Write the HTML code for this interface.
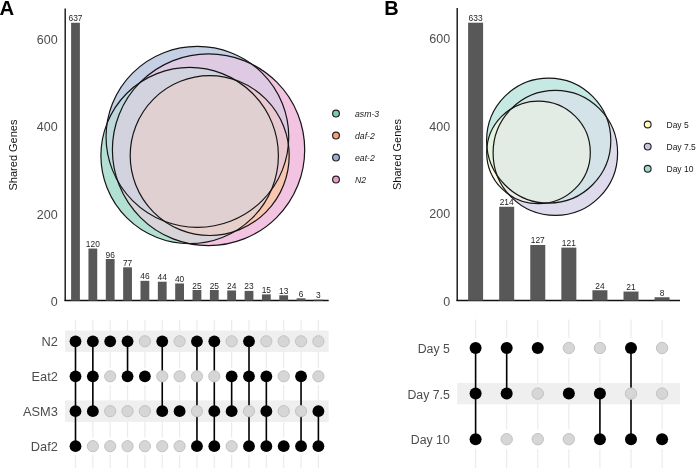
<!DOCTYPE html><html><head><meta charset="utf-8"><style>html,body{margin:0;padding:0;background:#fff;}svg{display:block;will-change:transform;}text{font-family:"Liberation Sans",sans-serif;}</style></head><body>
<svg width="696" height="468" viewBox="0 0 696 468">
<rect width="696" height="468" fill="#fff"/>
<text x="-0.4" y="15.1" font-size="20.3" font-weight="bold" fill="#000">A</text>
<line x1="65.2" y1="8.5" x2="65.2" y2="301" stroke="#111" stroke-width="1.4"/>
<line x1="64.5" y1="300.5" x2="328.7" y2="300.5" stroke="#111" stroke-width="1.7"/>
<text x="57.6" y="305.9" font-size="12.5" fill="#4d4d4d" text-anchor="end">0</text>
<text x="57.6" y="218.6" font-size="12.5" fill="#4d4d4d" text-anchor="end">200</text>
<text x="57.6" y="131.3" font-size="12.5" fill="#4d4d4d" text-anchor="end">400</text>
<text x="57.6" y="43.9" font-size="12.5" fill="#4d4d4d" text-anchor="end">600</text>
<text transform="translate(17.3,155) rotate(-90)" font-size="11" fill="#111" text-anchor="middle">Shared Genes</text>
<rect x="71.10" y="22.75" width="8.8" height="277.85" fill="#585858"/>
<text x="75.50" y="21.25" font-size="8.4" fill="#1e1e1e" text-anchor="middle">637</text>
<rect x="88.45" y="248.53" width="8.8" height="52.07" fill="#585858"/>
<text x="92.85" y="247.03" font-size="8.4" fill="#1e1e1e" text-anchor="middle">120</text>
<rect x="105.80" y="259.01" width="8.8" height="41.59" fill="#585858"/>
<text x="110.20" y="257.51" font-size="8.4" fill="#1e1e1e" text-anchor="middle">96</text>
<rect x="123.15" y="267.30" width="8.8" height="33.30" fill="#585858"/>
<text x="127.55" y="265.80" font-size="8.4" fill="#1e1e1e" text-anchor="middle">77</text>
<rect x="140.50" y="280.84" width="8.8" height="19.76" fill="#585858"/>
<text x="144.90" y="279.34" font-size="8.4" fill="#1e1e1e" text-anchor="middle">46</text>
<rect x="157.85" y="281.72" width="8.8" height="18.88" fill="#585858"/>
<text x="162.25" y="280.22" font-size="8.4" fill="#1e1e1e" text-anchor="middle">44</text>
<rect x="175.20" y="283.46" width="8.8" height="17.14" fill="#585858"/>
<text x="179.60" y="281.96" font-size="8.4" fill="#1e1e1e" text-anchor="middle">40</text>
<rect x="192.55" y="290.01" width="8.8" height="10.59" fill="#585858"/>
<text x="196.95" y="288.51" font-size="8.4" fill="#1e1e1e" text-anchor="middle">25</text>
<rect x="209.90" y="290.01" width="8.8" height="10.59" fill="#585858"/>
<text x="214.30" y="288.51" font-size="8.4" fill="#1e1e1e" text-anchor="middle">25</text>
<rect x="227.25" y="290.45" width="8.8" height="10.15" fill="#585858"/>
<text x="231.65" y="288.95" font-size="8.4" fill="#1e1e1e" text-anchor="middle">24</text>
<rect x="244.60" y="290.89" width="8.8" height="9.71" fill="#585858"/>
<text x="249.00" y="289.39" font-size="8.4" fill="#1e1e1e" text-anchor="middle">23</text>
<rect x="261.95" y="294.38" width="8.8" height="6.22" fill="#585858"/>
<text x="266.35" y="292.88" font-size="8.4" fill="#1e1e1e" text-anchor="middle">15</text>
<rect x="279.30" y="295.25" width="8.8" height="5.35" fill="#585858"/>
<text x="283.70" y="293.75" font-size="8.4" fill="#1e1e1e" text-anchor="middle">13</text>
<rect x="296.65" y="298.31" width="8.8" height="2.29" fill="#585858"/>
<text x="301.05" y="296.81" font-size="8.4" fill="#1e1e1e" text-anchor="middle">6</text>
<rect x="314.00" y="299.62" width="8.8" height="0.98" fill="#585858"/>
<text x="318.40" y="298.12" font-size="8.4" fill="#1e1e1e" text-anchor="middle">3</text>
<rect x="65" y="330.7" width="263.5" height="21.2" fill="#efefef"/>
<rect x="65" y="400.6" width="263.5" height="21.2" fill="#efefef"/>
<line x1="75.50" y1="320" x2="75.50" y2="468" stroke="#ebebeb" stroke-width="1.2"/>
<line x1="92.85" y1="320" x2="92.85" y2="468" stroke="#ebebeb" stroke-width="1.2"/>
<line x1="110.20" y1="320" x2="110.20" y2="468" stroke="#ebebeb" stroke-width="1.2"/>
<line x1="127.55" y1="320" x2="127.55" y2="468" stroke="#ebebeb" stroke-width="1.2"/>
<line x1="144.90" y1="320" x2="144.90" y2="468" stroke="#ebebeb" stroke-width="1.2"/>
<line x1="162.25" y1="320" x2="162.25" y2="468" stroke="#ebebeb" stroke-width="1.2"/>
<line x1="179.60" y1="320" x2="179.60" y2="468" stroke="#ebebeb" stroke-width="1.2"/>
<line x1="196.95" y1="320" x2="196.95" y2="468" stroke="#ebebeb" stroke-width="1.2"/>
<line x1="214.30" y1="320" x2="214.30" y2="468" stroke="#ebebeb" stroke-width="1.2"/>
<line x1="231.65" y1="320" x2="231.65" y2="468" stroke="#ebebeb" stroke-width="1.2"/>
<line x1="249.00" y1="320" x2="249.00" y2="468" stroke="#ebebeb" stroke-width="1.2"/>
<line x1="266.35" y1="320" x2="266.35" y2="468" stroke="#ebebeb" stroke-width="1.2"/>
<line x1="283.70" y1="320" x2="283.70" y2="468" stroke="#ebebeb" stroke-width="1.2"/>
<line x1="301.05" y1="320" x2="301.05" y2="468" stroke="#ebebeb" stroke-width="1.2"/>
<line x1="318.40" y1="320" x2="318.40" y2="468" stroke="#ebebeb" stroke-width="1.2"/>
<circle cx="75.50" cy="341.3" r="8.6" fill="#efefef"/>
<circle cx="75.50" cy="376.3" r="8.6" fill="#fff"/>
<circle cx="75.50" cy="411.2" r="8.6" fill="#efefef"/>
<circle cx="75.50" cy="446.2" r="8.6" fill="#fff"/>
<circle cx="92.85" cy="341.3" r="8.6" fill="#efefef"/>
<circle cx="92.85" cy="376.3" r="8.6" fill="#fff"/>
<circle cx="92.85" cy="411.2" r="8.6" fill="#efefef"/>
<circle cx="92.85" cy="446.2" r="8.6" fill="#fff"/>
<circle cx="110.20" cy="341.3" r="8.6" fill="#efefef"/>
<circle cx="110.20" cy="376.3" r="8.6" fill="#fff"/>
<circle cx="110.20" cy="411.2" r="8.6" fill="#efefef"/>
<circle cx="110.20" cy="446.2" r="8.6" fill="#fff"/>
<circle cx="127.55" cy="341.3" r="8.6" fill="#efefef"/>
<circle cx="127.55" cy="376.3" r="8.6" fill="#fff"/>
<circle cx="127.55" cy="411.2" r="8.6" fill="#efefef"/>
<circle cx="127.55" cy="446.2" r="8.6" fill="#fff"/>
<circle cx="144.90" cy="341.3" r="8.6" fill="#efefef"/>
<circle cx="144.90" cy="376.3" r="8.6" fill="#fff"/>
<circle cx="144.90" cy="411.2" r="8.6" fill="#efefef"/>
<circle cx="144.90" cy="446.2" r="8.6" fill="#fff"/>
<circle cx="162.25" cy="341.3" r="8.6" fill="#efefef"/>
<circle cx="162.25" cy="376.3" r="8.6" fill="#fff"/>
<circle cx="162.25" cy="411.2" r="8.6" fill="#efefef"/>
<circle cx="162.25" cy="446.2" r="8.6" fill="#fff"/>
<circle cx="179.60" cy="341.3" r="8.6" fill="#efefef"/>
<circle cx="179.60" cy="376.3" r="8.6" fill="#fff"/>
<circle cx="179.60" cy="411.2" r="8.6" fill="#efefef"/>
<circle cx="179.60" cy="446.2" r="8.6" fill="#fff"/>
<circle cx="196.95" cy="341.3" r="8.6" fill="#efefef"/>
<circle cx="196.95" cy="376.3" r="8.6" fill="#fff"/>
<circle cx="196.95" cy="411.2" r="8.6" fill="#efefef"/>
<circle cx="196.95" cy="446.2" r="8.6" fill="#fff"/>
<circle cx="214.30" cy="341.3" r="8.6" fill="#efefef"/>
<circle cx="214.30" cy="376.3" r="8.6" fill="#fff"/>
<circle cx="214.30" cy="411.2" r="8.6" fill="#efefef"/>
<circle cx="214.30" cy="446.2" r="8.6" fill="#fff"/>
<circle cx="231.65" cy="341.3" r="8.6" fill="#efefef"/>
<circle cx="231.65" cy="376.3" r="8.6" fill="#fff"/>
<circle cx="231.65" cy="411.2" r="8.6" fill="#efefef"/>
<circle cx="231.65" cy="446.2" r="8.6" fill="#fff"/>
<circle cx="249.00" cy="341.3" r="8.6" fill="#efefef"/>
<circle cx="249.00" cy="376.3" r="8.6" fill="#fff"/>
<circle cx="249.00" cy="411.2" r="8.6" fill="#efefef"/>
<circle cx="249.00" cy="446.2" r="8.6" fill="#fff"/>
<circle cx="266.35" cy="341.3" r="8.6" fill="#efefef"/>
<circle cx="266.35" cy="376.3" r="8.6" fill="#fff"/>
<circle cx="266.35" cy="411.2" r="8.6" fill="#efefef"/>
<circle cx="266.35" cy="446.2" r="8.6" fill="#fff"/>
<circle cx="283.70" cy="341.3" r="8.6" fill="#efefef"/>
<circle cx="283.70" cy="376.3" r="8.6" fill="#fff"/>
<circle cx="283.70" cy="411.2" r="8.6" fill="#efefef"/>
<circle cx="283.70" cy="446.2" r="8.6" fill="#fff"/>
<circle cx="301.05" cy="341.3" r="8.6" fill="#efefef"/>
<circle cx="301.05" cy="376.3" r="8.6" fill="#fff"/>
<circle cx="301.05" cy="411.2" r="8.6" fill="#efefef"/>
<circle cx="301.05" cy="446.2" r="8.6" fill="#fff"/>
<circle cx="318.40" cy="341.3" r="8.6" fill="#efefef"/>
<circle cx="318.40" cy="376.3" r="8.6" fill="#fff"/>
<circle cx="318.40" cy="411.2" r="8.6" fill="#efefef"/>
<circle cx="318.40" cy="446.2" r="8.6" fill="#fff"/>
<rect x="65" y="330.7" width="263.5" height="21.2" fill="#efefef" opacity="0.7"/>
<rect x="65" y="400.6" width="263.5" height="21.2" fill="#efefef" opacity="0.7"/>
<line x1="75.50" y1="341.3" x2="75.50" y2="446.2" stroke="#000" stroke-width="1.6"/>
<circle cx="75.50" cy="341.3" r="5.9" fill="#000"/>
<circle cx="75.50" cy="376.3" r="5.9" fill="#000"/>
<circle cx="75.50" cy="411.2" r="5.9" fill="#000"/>
<circle cx="75.50" cy="446.2" r="5.9" fill="#000"/>
<line x1="92.85" y1="341.3" x2="92.85" y2="411.2" stroke="#000" stroke-width="1.6"/>
<circle cx="92.85" cy="341.3" r="5.9" fill="#000"/>
<circle cx="92.85" cy="376.3" r="5.9" fill="#000"/>
<circle cx="92.85" cy="411.2" r="5.9" fill="#000"/>
<circle cx="92.85" cy="446.2" r="5.6" fill="#d6d6d6" stroke="#c2c2c2" stroke-width="1"/>
<circle cx="110.20" cy="341.3" r="5.9" fill="#000"/>
<circle cx="110.20" cy="376.3" r="5.6" fill="#d6d6d6" stroke="#c2c2c2" stroke-width="1"/>
<circle cx="110.20" cy="411.2" r="5.6" fill="#d6d6d6" stroke="#c2c2c2" stroke-width="1"/>
<circle cx="110.20" cy="446.2" r="5.6" fill="#d6d6d6" stroke="#c2c2c2" stroke-width="1"/>
<line x1="127.55" y1="341.3" x2="127.55" y2="376.3" stroke="#000" stroke-width="1.6"/>
<circle cx="127.55" cy="341.3" r="5.9" fill="#000"/>
<circle cx="127.55" cy="376.3" r="5.9" fill="#000"/>
<circle cx="127.55" cy="411.2" r="5.6" fill="#d6d6d6" stroke="#c2c2c2" stroke-width="1"/>
<circle cx="127.55" cy="446.2" r="5.6" fill="#d6d6d6" stroke="#c2c2c2" stroke-width="1"/>
<circle cx="144.90" cy="341.3" r="5.6" fill="#d6d6d6" stroke="#c2c2c2" stroke-width="1"/>
<circle cx="144.90" cy="376.3" r="5.9" fill="#000"/>
<circle cx="144.90" cy="411.2" r="5.6" fill="#d6d6d6" stroke="#c2c2c2" stroke-width="1"/>
<circle cx="144.90" cy="446.2" r="5.6" fill="#d6d6d6" stroke="#c2c2c2" stroke-width="1"/>
<line x1="162.25" y1="341.3" x2="162.25" y2="411.2" stroke="#000" stroke-width="1.6"/>
<circle cx="162.25" cy="341.3" r="5.9" fill="#000"/>
<circle cx="162.25" cy="376.3" r="5.6" fill="#d6d6d6" stroke="#c2c2c2" stroke-width="1"/>
<circle cx="162.25" cy="411.2" r="5.9" fill="#000"/>
<circle cx="162.25" cy="446.2" r="5.6" fill="#d6d6d6" stroke="#c2c2c2" stroke-width="1"/>
<circle cx="179.60" cy="341.3" r="5.6" fill="#d6d6d6" stroke="#c2c2c2" stroke-width="1"/>
<circle cx="179.60" cy="376.3" r="5.6" fill="#d6d6d6" stroke="#c2c2c2" stroke-width="1"/>
<circle cx="179.60" cy="411.2" r="5.9" fill="#000"/>
<circle cx="179.60" cy="446.2" r="5.6" fill="#d6d6d6" stroke="#c2c2c2" stroke-width="1"/>
<line x1="196.95" y1="341.3" x2="196.95" y2="446.2" stroke="#000" stroke-width="1.6"/>
<circle cx="196.95" cy="341.3" r="5.9" fill="#000"/>
<circle cx="196.95" cy="376.3" r="5.6" fill="#d6d6d6" stroke="#c2c2c2" stroke-width="1"/>
<circle cx="196.95" cy="411.2" r="5.6" fill="#d6d6d6" stroke="#c2c2c2" stroke-width="1"/>
<circle cx="196.95" cy="446.2" r="5.9" fill="#000"/>
<line x1="214.30" y1="341.3" x2="214.30" y2="446.2" stroke="#000" stroke-width="1.6"/>
<circle cx="214.30" cy="341.3" r="5.9" fill="#000"/>
<circle cx="214.30" cy="376.3" r="5.6" fill="#d6d6d6" stroke="#c2c2c2" stroke-width="1"/>
<circle cx="214.30" cy="411.2" r="5.9" fill="#000"/>
<circle cx="214.30" cy="446.2" r="5.9" fill="#000"/>
<line x1="231.65" y1="376.3" x2="231.65" y2="411.2" stroke="#000" stroke-width="1.6"/>
<circle cx="231.65" cy="341.3" r="5.6" fill="#d6d6d6" stroke="#c2c2c2" stroke-width="1"/>
<circle cx="231.65" cy="376.3" r="5.9" fill="#000"/>
<circle cx="231.65" cy="411.2" r="5.9" fill="#000"/>
<circle cx="231.65" cy="446.2" r="5.6" fill="#d6d6d6" stroke="#c2c2c2" stroke-width="1"/>
<line x1="249.00" y1="341.3" x2="249.00" y2="446.2" stroke="#000" stroke-width="1.6"/>
<circle cx="249.00" cy="341.3" r="5.9" fill="#000"/>
<circle cx="249.00" cy="376.3" r="5.9" fill="#000"/>
<circle cx="249.00" cy="411.2" r="5.6" fill="#d6d6d6" stroke="#c2c2c2" stroke-width="1"/>
<circle cx="249.00" cy="446.2" r="5.9" fill="#000"/>
<line x1="266.35" y1="376.3" x2="266.35" y2="446.2" stroke="#000" stroke-width="1.6"/>
<circle cx="266.35" cy="341.3" r="5.6" fill="#d6d6d6" stroke="#c2c2c2" stroke-width="1"/>
<circle cx="266.35" cy="376.3" r="5.9" fill="#000"/>
<circle cx="266.35" cy="411.2" r="5.9" fill="#000"/>
<circle cx="266.35" cy="446.2" r="5.9" fill="#000"/>
<circle cx="283.70" cy="341.3" r="5.6" fill="#d6d6d6" stroke="#c2c2c2" stroke-width="1"/>
<circle cx="283.70" cy="376.3" r="5.6" fill="#d6d6d6" stroke="#c2c2c2" stroke-width="1"/>
<circle cx="283.70" cy="411.2" r="5.6" fill="#d6d6d6" stroke="#c2c2c2" stroke-width="1"/>
<circle cx="283.70" cy="446.2" r="5.9" fill="#000"/>
<line x1="301.05" y1="376.3" x2="301.05" y2="446.2" stroke="#000" stroke-width="1.6"/>
<circle cx="301.05" cy="341.3" r="5.6" fill="#d6d6d6" stroke="#c2c2c2" stroke-width="1"/>
<circle cx="301.05" cy="376.3" r="5.9" fill="#000"/>
<circle cx="301.05" cy="411.2" r="5.6" fill="#d6d6d6" stroke="#c2c2c2" stroke-width="1"/>
<circle cx="301.05" cy="446.2" r="5.9" fill="#000"/>
<line x1="318.40" y1="411.2" x2="318.40" y2="446.2" stroke="#000" stroke-width="1.6"/>
<circle cx="318.40" cy="341.3" r="5.6" fill="#d6d6d6" stroke="#c2c2c2" stroke-width="1"/>
<circle cx="318.40" cy="376.3" r="5.6" fill="#d6d6d6" stroke="#c2c2c2" stroke-width="1"/>
<circle cx="318.40" cy="411.2" r="5.9" fill="#000"/>
<circle cx="318.40" cy="446.2" r="5.9" fill="#000"/>
<text x="57.9" y="346.0" font-size="12.8" fill="#4d4d4d" text-anchor="end">N2</text>
<text x="57.9" y="381.0" font-size="12.8" fill="#4d4d4d" text-anchor="end">Eat2</text>
<text x="57.9" y="415.9" font-size="12.8" fill="#4d4d4d" text-anchor="end">ASM3</text>
<text x="57.9" y="450.9" font-size="12.8" fill="#4d4d4d" text-anchor="end">Daf2</text>
<defs>
<clipPath id="ac0"><ellipse cx="189.65" cy="155.55" rx="88.75" ry="88.15"/></clipPath>
<clipPath id="ac1"><ellipse cx="209.7" cy="155.6" rx="79.5" ry="79.9"/></clipPath>
<clipPath id="ac2"><ellipse cx="197.4" cy="136.85" rx="91.35" ry="90.45"/></clipPath>
<clipPath id="ac3"><ellipse cx="208.55" cy="149.75" rx="96.15" ry="95.9"/></clipPath>
<mask id="am0" maskUnits="userSpaceOnUse" x="95" y="40" width="220" height="215"><rect x="95" y="40" width="220" height="215" fill="#fff"/><ellipse cx="209.7" cy="155.6" rx="79.5" ry="79.9" fill="#000"/><ellipse cx="197.4" cy="136.85" rx="91.35" ry="90.45" fill="#000"/><ellipse cx="208.55" cy="149.75" rx="96.15" ry="95.9" fill="#000"/></mask>
<mask id="am1" maskUnits="userSpaceOnUse" x="95" y="40" width="220" height="215"><rect x="95" y="40" width="220" height="215" fill="#fff"/><ellipse cx="189.65" cy="155.55" rx="88.75" ry="88.15" fill="#000"/><ellipse cx="197.4" cy="136.85" rx="91.35" ry="90.45" fill="#000"/><ellipse cx="208.55" cy="149.75" rx="96.15" ry="95.9" fill="#000"/></mask>
<mask id="am2" maskUnits="userSpaceOnUse" x="95" y="40" width="220" height="215"><rect x="95" y="40" width="220" height="215" fill="#fff"/><ellipse cx="189.65" cy="155.55" rx="88.75" ry="88.15" fill="#000"/><ellipse cx="209.7" cy="155.6" rx="79.5" ry="79.9" fill="#000"/><ellipse cx="208.55" cy="149.75" rx="96.15" ry="95.9" fill="#000"/></mask>
<mask id="am3" maskUnits="userSpaceOnUse" x="95" y="40" width="220" height="215"><rect x="95" y="40" width="220" height="215" fill="#fff"/><ellipse cx="189.65" cy="155.55" rx="88.75" ry="88.15" fill="#000"/><ellipse cx="209.7" cy="155.6" rx="79.5" ry="79.9" fill="#000"/><ellipse cx="197.4" cy="136.85" rx="91.35" ry="90.45" fill="#000"/></mask>
<mask id="am01" maskUnits="userSpaceOnUse" x="95" y="40" width="220" height="215"><rect x="95" y="40" width="220" height="215" fill="#fff"/><ellipse cx="197.4" cy="136.85" rx="91.35" ry="90.45" fill="#000"/><ellipse cx="208.55" cy="149.75" rx="96.15" ry="95.9" fill="#000"/></mask>
<mask id="am02" maskUnits="userSpaceOnUse" x="95" y="40" width="220" height="215"><rect x="95" y="40" width="220" height="215" fill="#fff"/><ellipse cx="209.7" cy="155.6" rx="79.5" ry="79.9" fill="#000"/><ellipse cx="208.55" cy="149.75" rx="96.15" ry="95.9" fill="#000"/></mask>
<mask id="am03" maskUnits="userSpaceOnUse" x="95" y="40" width="220" height="215"><rect x="95" y="40" width="220" height="215" fill="#fff"/><ellipse cx="209.7" cy="155.6" rx="79.5" ry="79.9" fill="#000"/><ellipse cx="197.4" cy="136.85" rx="91.35" ry="90.45" fill="#000"/></mask>
<mask id="am12" maskUnits="userSpaceOnUse" x="95" y="40" width="220" height="215"><rect x="95" y="40" width="220" height="215" fill="#fff"/><ellipse cx="189.65" cy="155.55" rx="88.75" ry="88.15" fill="#000"/><ellipse cx="208.55" cy="149.75" rx="96.15" ry="95.9" fill="#000"/></mask>
<mask id="am13" maskUnits="userSpaceOnUse" x="95" y="40" width="220" height="215"><rect x="95" y="40" width="220" height="215" fill="#fff"/><ellipse cx="189.65" cy="155.55" rx="88.75" ry="88.15" fill="#000"/><ellipse cx="197.4" cy="136.85" rx="91.35" ry="90.45" fill="#000"/></mask>
<mask id="am23" maskUnits="userSpaceOnUse" x="95" y="40" width="220" height="215"><rect x="95" y="40" width="220" height="215" fill="#fff"/><ellipse cx="189.65" cy="155.55" rx="88.75" ry="88.15" fill="#000"/><ellipse cx="209.7" cy="155.6" rx="79.5" ry="79.9" fill="#000"/></mask>
<mask id="am012" maskUnits="userSpaceOnUse" x="95" y="40" width="220" height="215"><rect x="95" y="40" width="220" height="215" fill="#fff"/><ellipse cx="208.55" cy="149.75" rx="96.15" ry="95.9" fill="#000"/></mask>
<mask id="am013" maskUnits="userSpaceOnUse" x="95" y="40" width="220" height="215"><rect x="95" y="40" width="220" height="215" fill="#fff"/><ellipse cx="197.4" cy="136.85" rx="91.35" ry="90.45" fill="#000"/></mask>
<mask id="am023" maskUnits="userSpaceOnUse" x="95" y="40" width="220" height="215"><rect x="95" y="40" width="220" height="215" fill="#fff"/><ellipse cx="209.7" cy="155.6" rx="79.5" ry="79.9" fill="#000"/></mask>
<mask id="am123" maskUnits="userSpaceOnUse" x="95" y="40" width="220" height="215"><rect x="95" y="40" width="220" height="215" fill="#fff"/><ellipse cx="189.65" cy="155.55" rx="88.75" ry="88.15" fill="#000"/></mask>
</defs>
<g clip-path="url(#ac0)"><rect x="95" y="40" width="220" height="215" fill="#b2e0d2" mask="url(#am0)"/></g>
<g clip-path="url(#ac1)"><rect x="95" y="40" width="220" height="215" fill="#fec6b0" mask="url(#am1)"/></g>
<g clip-path="url(#ac2)"><rect x="95" y="40" width="220" height="215" fill="#c6d0e5" mask="url(#am2)"/></g>
<g clip-path="url(#ac3)"><rect x="95" y="40" width="220" height="215" fill="#f3c4e1" mask="url(#am3)"/></g>
<g clip-path="url(#ac0)"><g clip-path="url(#ac1)"><rect x="95" y="40" width="220" height="215" fill="#e0d5c1" mask="url(#am01)"/></g></g>
<g clip-path="url(#ac0)"><g clip-path="url(#ac2)"><rect x="95" y="40" width="220" height="215" fill="#bed8dc" mask="url(#am02)"/></g></g>
<g clip-path="url(#ac0)"><g clip-path="url(#ac3)"><rect x="95" y="40" width="220" height="215" fill="#d8d4da" mask="url(#am03)"/></g></g>
<g clip-path="url(#ac1)"><g clip-path="url(#ac2)"><rect x="95" y="40" width="220" height="215" fill="#e7cbcb" mask="url(#am12)"/></g></g>
<g clip-path="url(#ac1)"><g clip-path="url(#ac3)"><rect x="95" y="40" width="220" height="215" fill="#f9c6b0" mask="url(#am13)"/></g></g>
<g clip-path="url(#ac2)"><g clip-path="url(#ac3)"><rect x="95" y="40" width="220" height="215" fill="#decbe3" mask="url(#am23)"/></g></g>
<g clip-path="url(#ac0)"><g clip-path="url(#ac1)"><g clip-path="url(#ac2)"><rect x="95" y="40" width="220" height="215" fill="#dad3ce" mask="url(#am012)"/></g></g></g>
<g clip-path="url(#ac0)"><g clip-path="url(#ac1)"><g clip-path="url(#ac3)"><rect x="95" y="40" width="220" height="215" fill="#e7d0cc" mask="url(#am013)"/></g></g></g>
<g clip-path="url(#ac0)"><g clip-path="url(#ac2)"><g clip-path="url(#ac3)"><rect x="95" y="40" width="220" height="215" fill="#d2d3de" mask="url(#am023)"/></g></g></g>
<g clip-path="url(#ac1)"><g clip-path="url(#ac2)"><g clip-path="url(#ac3)"><rect x="95" y="40" width="220" height="215" fill="#ebc9d2" mask="url(#am123)"/></g></g></g>
<g clip-path="url(#ac0)"><g clip-path="url(#ac1)"><g clip-path="url(#ac2)"><g clip-path="url(#ac3)"><rect x="95" y="40" width="220" height="215" fill="#e0d0d2"/></g></g></g></g>
<ellipse cx="189.65" cy="155.55" rx="88.75" ry="88.15" fill="none" stroke="#151515" stroke-width="1.2"/>
<ellipse cx="209.7" cy="155.6" rx="79.5" ry="79.9" fill="none" stroke="#151515" stroke-width="1.2"/>
<ellipse cx="197.4" cy="136.85" rx="91.35" ry="90.45" fill="none" stroke="#151515" stroke-width="1.2"/>
<ellipse cx="208.55" cy="149.75" rx="96.15" ry="95.9" fill="none" stroke="#151515" stroke-width="1.2"/>
<circle cx="336" cy="113.6" r="3.4" fill="#66c2a5" fill-opacity="0.85" stroke="#222" stroke-width="1.2"/>
<text x="355" y="117.0" font-size="8.7" font-style="italic" fill="#1a1a1a">asm-3</text>
<circle cx="336" cy="135.6" r="3.4" fill="#fc8d62" fill-opacity="0.85" stroke="#222" stroke-width="1.2"/>
<text x="355" y="139.0" font-size="8.7" font-style="italic" fill="#1a1a1a">daf-2</text>
<circle cx="336" cy="157.6" r="3.4" fill="#8da0cb" fill-opacity="0.85" stroke="#222" stroke-width="1.2"/>
<text x="355" y="161.0" font-size="8.7" font-style="italic" fill="#1a1a1a">eat-2</text>
<circle cx="336" cy="179.6" r="3.4" fill="#e78ac3" fill-opacity="0.85" stroke="#222" stroke-width="1.2"/>
<text x="355" y="183.0" font-size="8.7" font-style="italic" fill="#1a1a1a">N2</text>
<text x="384.2" y="14.8" font-size="20" font-weight="bold" fill="#000">B</text>
<line x1="457.2" y1="8.1" x2="457.2" y2="301" stroke="#111" stroke-width="1.4"/>
<line x1="456.5" y1="300.5" x2="680" y2="300.5" stroke="#111" stroke-width="1.7"/>
<text x="450.1" y="306.3" font-size="12.5" fill="#4d4d4d" text-anchor="end">0</text>
<text x="450.1" y="218.4" font-size="12.5" fill="#4d4d4d" text-anchor="end">200</text>
<text x="450.1" y="130.6" font-size="12.5" fill="#4d4d4d" text-anchor="end">400</text>
<text x="450.1" y="42.7" font-size="12.5" fill="#4d4d4d" text-anchor="end">600</text>
<text transform="translate(401.2,154.5) rotate(-90)" font-size="11" fill="#111" text-anchor="middle">Shared Genes</text>
<rect x="468.10" y="22.70" width="15" height="277.90" fill="#585858"/>
<text x="475.60" y="21.20" font-size="8.4" fill="#1e1e1e" text-anchor="middle">633</text>
<rect x="499.18" y="206.77" width="15" height="93.83" fill="#585858"/>
<text x="506.68" y="205.27" font-size="8.4" fill="#1e1e1e" text-anchor="middle">214</text>
<rect x="530.26" y="244.99" width="15" height="55.61" fill="#585858"/>
<text x="537.76" y="243.49" font-size="8.4" fill="#1e1e1e" text-anchor="middle">127</text>
<rect x="561.34" y="247.62" width="15" height="52.98" fill="#585858"/>
<text x="568.84" y="246.12" font-size="8.4" fill="#1e1e1e" text-anchor="middle">121</text>
<rect x="592.42" y="290.24" width="15" height="10.36" fill="#585858"/>
<text x="599.92" y="288.74" font-size="8.4" fill="#1e1e1e" text-anchor="middle">24</text>
<rect x="623.50" y="291.55" width="15" height="9.05" fill="#585858"/>
<text x="631.00" y="290.05" font-size="8.4" fill="#1e1e1e" text-anchor="middle">21</text>
<rect x="654.58" y="297.27" width="15" height="3.33" fill="#585858"/>
<text x="662.08" y="295.77" font-size="8.4" fill="#1e1e1e" text-anchor="middle">8</text>
<rect x="457.3" y="383.0" width="222.7" height="21.2" fill="#efefef"/>
<line x1="475.60" y1="319.6" x2="475.60" y2="468" stroke="#ebebeb" stroke-width="1.2"/>
<line x1="506.68" y1="319.6" x2="506.68" y2="468" stroke="#ebebeb" stroke-width="1.2"/>
<line x1="537.76" y1="319.6" x2="537.76" y2="468" stroke="#ebebeb" stroke-width="1.2"/>
<line x1="568.84" y1="319.6" x2="568.84" y2="468" stroke="#ebebeb" stroke-width="1.2"/>
<line x1="599.92" y1="319.6" x2="599.92" y2="468" stroke="#ebebeb" stroke-width="1.2"/>
<line x1="631.00" y1="319.6" x2="631.00" y2="468" stroke="#ebebeb" stroke-width="1.2"/>
<line x1="662.08" y1="319.6" x2="662.08" y2="468" stroke="#ebebeb" stroke-width="1.2"/>
<circle cx="475.60" cy="348.0" r="10" fill="#fff"/>
<circle cx="475.60" cy="393.6" r="10" fill="#efefef"/>
<circle cx="475.60" cy="439.2" r="10" fill="#fff"/>
<circle cx="506.68" cy="348.0" r="10" fill="#fff"/>
<circle cx="506.68" cy="393.6" r="10" fill="#efefef"/>
<circle cx="506.68" cy="439.2" r="10" fill="#fff"/>
<circle cx="537.76" cy="348.0" r="10" fill="#fff"/>
<circle cx="537.76" cy="393.6" r="10" fill="#efefef"/>
<circle cx="537.76" cy="439.2" r="10" fill="#fff"/>
<circle cx="568.84" cy="348.0" r="10" fill="#fff"/>
<circle cx="568.84" cy="393.6" r="10" fill="#efefef"/>
<circle cx="568.84" cy="439.2" r="10" fill="#fff"/>
<circle cx="599.92" cy="348.0" r="10" fill="#fff"/>
<circle cx="599.92" cy="393.6" r="10" fill="#efefef"/>
<circle cx="599.92" cy="439.2" r="10" fill="#fff"/>
<circle cx="631.00" cy="348.0" r="10" fill="#fff"/>
<circle cx="631.00" cy="393.6" r="10" fill="#efefef"/>
<circle cx="631.00" cy="439.2" r="10" fill="#fff"/>
<circle cx="662.08" cy="348.0" r="10" fill="#fff"/>
<circle cx="662.08" cy="393.6" r="10" fill="#efefef"/>
<circle cx="662.08" cy="439.2" r="10" fill="#fff"/>
<rect x="457.3" y="383.0" width="222.7" height="21.2" fill="#efefef" opacity="0.7"/>
<line x1="475.60" y1="348.0" x2="475.60" y2="439.2" stroke="#000" stroke-width="1.6"/>
<circle cx="475.60" cy="348.0" r="6" fill="#000"/>
<circle cx="475.60" cy="393.6" r="6" fill="#000"/>
<circle cx="475.60" cy="439.2" r="6" fill="#000"/>
<line x1="506.68" y1="348.0" x2="506.68" y2="393.6" stroke="#000" stroke-width="1.6"/>
<circle cx="506.68" cy="348.0" r="6" fill="#000"/>
<circle cx="506.68" cy="393.6" r="6" fill="#000"/>
<circle cx="506.68" cy="439.2" r="5.7" fill="#d6d6d6" stroke="#c2c2c2" stroke-width="1"/>
<circle cx="537.76" cy="348.0" r="6" fill="#000"/>
<circle cx="537.76" cy="393.6" r="5.7" fill="#d6d6d6" stroke="#c2c2c2" stroke-width="1"/>
<circle cx="537.76" cy="439.2" r="5.7" fill="#d6d6d6" stroke="#c2c2c2" stroke-width="1"/>
<circle cx="568.84" cy="348.0" r="5.7" fill="#d6d6d6" stroke="#c2c2c2" stroke-width="1"/>
<circle cx="568.84" cy="393.6" r="6" fill="#000"/>
<circle cx="568.84" cy="439.2" r="5.7" fill="#d6d6d6" stroke="#c2c2c2" stroke-width="1"/>
<line x1="599.92" y1="393.6" x2="599.92" y2="439.2" stroke="#000" stroke-width="1.6"/>
<circle cx="599.92" cy="348.0" r="5.7" fill="#d6d6d6" stroke="#c2c2c2" stroke-width="1"/>
<circle cx="599.92" cy="393.6" r="6" fill="#000"/>
<circle cx="599.92" cy="439.2" r="6" fill="#000"/>
<line x1="631.00" y1="348.0" x2="631.00" y2="439.2" stroke="#000" stroke-width="1.6"/>
<circle cx="631.00" cy="348.0" r="6" fill="#000"/>
<circle cx="631.00" cy="393.6" r="5.7" fill="#d6d6d6" stroke="#c2c2c2" stroke-width="1"/>
<circle cx="631.00" cy="439.2" r="6" fill="#000"/>
<circle cx="662.08" cy="348.0" r="5.7" fill="#d6d6d6" stroke="#c2c2c2" stroke-width="1"/>
<circle cx="662.08" cy="393.6" r="5.7" fill="#d6d6d6" stroke="#c2c2c2" stroke-width="1"/>
<circle cx="662.08" cy="439.2" r="6" fill="#000"/>
<text x="449.8" y="352.9" font-size="12.3" fill="#4d4d4d" text-anchor="end">Day 5</text>
<text x="449.8" y="398.5" font-size="12.3" fill="#4d4d4d" text-anchor="end">Day 7.5</text>
<text x="449.8" y="444.1" font-size="12.3" fill="#4d4d4d" text-anchor="end">Day 10</text>
<defs>
<clipPath id="bc0"><ellipse cx="538.5" cy="152.4" rx="51.8" ry="51.3"/></clipPath>
<clipPath id="bc1"><ellipse cx="555.35" cy="152.9" rx="62.25" ry="62.55"/></clipPath>
<clipPath id="bc2"><ellipse cx="548.7" cy="140.6" rx="62.1" ry="62.5"/></clipPath>
<mask id="bm0" maskUnits="userSpaceOnUse" x="480" y="70" width="145" height="155"><rect x="480" y="70" width="145" height="155" fill="#fff"/><ellipse cx="555.35" cy="152.9" rx="62.25" ry="62.55" fill="#000"/><ellipse cx="548.7" cy="140.6" rx="62.1" ry="62.5" fill="#000"/></mask>
<mask id="bm1" maskUnits="userSpaceOnUse" x="480" y="70" width="145" height="155"><rect x="480" y="70" width="145" height="155" fill="#fff"/><ellipse cx="538.5" cy="152.4" rx="51.8" ry="51.3" fill="#000"/><ellipse cx="548.7" cy="140.6" rx="62.1" ry="62.5" fill="#000"/></mask>
<mask id="bm2" maskUnits="userSpaceOnUse" x="480" y="70" width="145" height="155"><rect x="480" y="70" width="145" height="155" fill="#fff"/><ellipse cx="538.5" cy="152.4" rx="51.8" ry="51.3" fill="#000"/><ellipse cx="555.35" cy="152.9" rx="62.25" ry="62.55" fill="#000"/></mask>
<mask id="bm01" maskUnits="userSpaceOnUse" x="480" y="70" width="145" height="155"><rect x="480" y="70" width="145" height="155" fill="#fff"/><ellipse cx="548.7" cy="140.6" rx="62.1" ry="62.5" fill="#000"/></mask>
<mask id="bm02" maskUnits="userSpaceOnUse" x="480" y="70" width="145" height="155"><rect x="480" y="70" width="145" height="155" fill="#fff"/><ellipse cx="555.35" cy="152.9" rx="62.25" ry="62.55" fill="#000"/></mask>
<mask id="bm12" maskUnits="userSpaceOnUse" x="480" y="70" width="145" height="155"><rect x="480" y="70" width="145" height="155" fill="#fff"/><ellipse cx="538.5" cy="152.4" rx="51.8" ry="51.3" fill="#000"/></mask>
</defs>
<g clip-path="url(#bc0)"><rect x="480" y="70" width="145" height="155" fill="#fcfce4" mask="url(#bm0)"/></g>
<g clip-path="url(#bc1)"><rect x="480" y="70" width="145" height="155" fill="#dedcec" mask="url(#bm1)"/></g>
<g clip-path="url(#bc2)"><rect x="480" y="70" width="145" height="155" fill="#c6e9e3" mask="url(#bm2)"/></g>
<g clip-path="url(#bc0)"><g clip-path="url(#bc1)"><rect x="480" y="70" width="145" height="155" fill="#f0eee4" mask="url(#bm01)"/></g></g>
<g clip-path="url(#bc0)"><g clip-path="url(#bc2)"><rect x="480" y="70" width="145" height="155" fill="#e4f4de" mask="url(#bm02)"/></g></g>
<g clip-path="url(#bc1)"><g clip-path="url(#bc2)"><rect x="480" y="70" width="145" height="155" fill="#d4e3e8" mask="url(#bm12)"/></g></g>
<g clip-path="url(#bc0)"><g clip-path="url(#bc1)"><g clip-path="url(#bc2)"><rect x="480" y="70" width="145" height="155" fill="#e3ece4"/></g></g></g>
<ellipse cx="538.5" cy="152.4" rx="51.8" ry="51.3" fill="none" stroke="#151515" stroke-width="1.2"/>
<ellipse cx="555.35" cy="152.9" rx="62.25" ry="62.55" fill="none" stroke="#151515" stroke-width="1.2"/>
<ellipse cx="548.7" cy="140.6" rx="62.1" ry="62.5" fill="none" stroke="#151515" stroke-width="1.2"/>
<circle cx="647.7" cy="124.5" r="3.4" fill="#ffffb3" fill-opacity="0.85" stroke="#222" stroke-width="1.15"/>
<text x="666.5" y="127.7" font-size="8.5" fill="#1a1a1a">Day 5</text>
<circle cx="647.7" cy="146.6" r="3.4" fill="#bebada" fill-opacity="0.85" stroke="#222" stroke-width="1.15"/>
<text x="666.5" y="149.8" font-size="8.5" fill="#1a1a1a">Day 7.5</text>
<circle cx="647.7" cy="168.7" r="3.4" fill="#8dd3c7" fill-opacity="0.85" stroke="#222" stroke-width="1.15"/>
<text x="666.5" y="171.9" font-size="8.5" fill="#1a1a1a">Day 10</text>
</svg></body></html>
